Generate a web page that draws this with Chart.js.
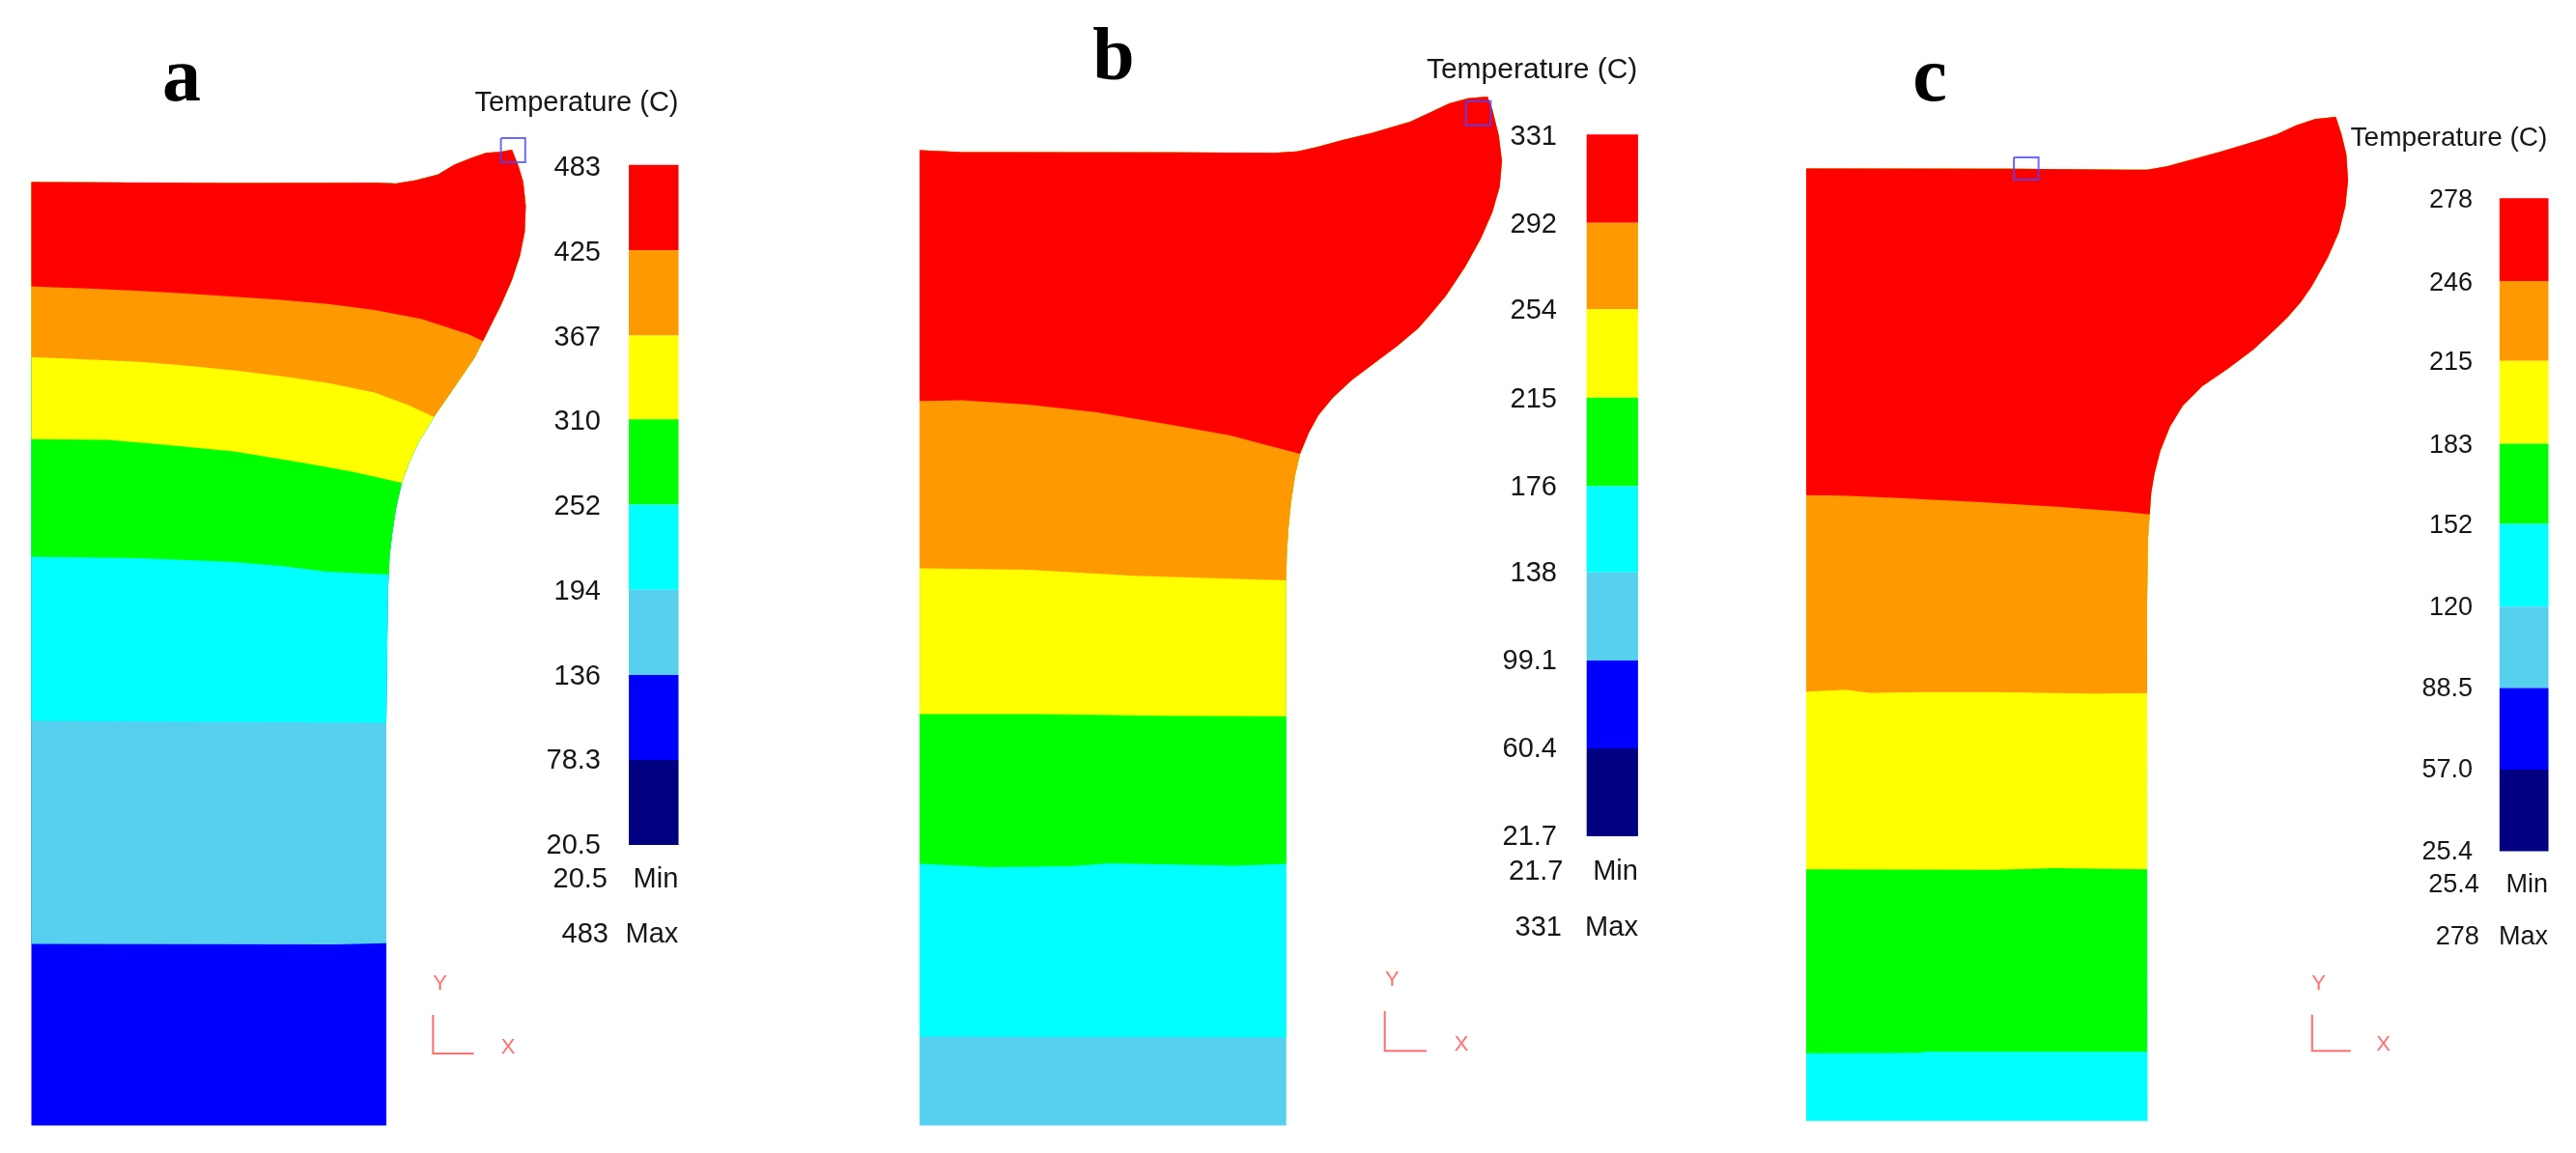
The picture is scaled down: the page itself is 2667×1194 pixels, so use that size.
<!DOCTYPE html>
<html lang="en">
<head>
  <meta charset="utf-8"/>
  <title>Temperature contours</title>
  <script src="https://cdn.jsdelivr.net/npm/chart.js"></script>
  <style>
    html, body { margin: 0; background: #fff; }
    canvas { display: block; }
  </style>
</head>
<body>
  <canvas id="contours" width="2667" height="1194"></canvas>
  <script>
    // colour bar labels, top to bottom
    const ticksA = ['483', '425', '367', '310', '252', '194', '136', '78.3', '20.5'];
    const ticksB = ['331', '292', '254', '215', '176', '138', '99.1', '60.4', '21.7'];
    const ticksC = ['278', '246', '215', '183', '152', '120', '88.5', '57.0', '25.4'];
    const bandColors = ['#ff0000', '#ff9900', '#ffff00', '#00ff00', '#00ffff', '#57cfee', '#0000ff', '#000080'];

    // part outlines: top-left, along the top, round the lip, down to the bottom
    const outlineA = [[32.5,188.6],[240,189.4],[390,189.3],[410,190],[430,186.7],[453.3,180.7],[470,170.7],[486.7,164],[503.3,158.3],[518.3,157.3],[530,155],[536.7,171.7],[541.7,188.3],[544.3,213.3],[543.3,240],[538.3,265],[530,290],[518.3,316.7],[500,353.3],[491.7,370],[470,401.7],[449.3,431.7],[433.3,458.3],[423.3,480],[416,500],[410,526.7],[406,553.3],[403.3,576.7],[402.7,595],[401.7,610],[400,748],[400,1165.5],[32.5,1165.5]];
    const outlineB = [[952.1,155.4],[996,157.4],[1218,157.8],[1320,158.3],[1343.3,156.7],[1363.3,152.3],[1390,145],[1420,137.7],[1460,126],[1480,116.7],[1500,107.3],[1520,101.7],[1540,100],[1545,113.3],[1551.7,140],[1555,166.7],[1552.7,193.3],[1545,220],[1533.3,246.7],[1516.7,276.7],[1496.7,306.7],[1480,326.7],[1468.3,340],[1446.7,358.3],[1420,378.3],[1400,393.3],[1380,411.7],[1365,430],[1355,448.3],[1346,470],[1340.7,493.3],[1336.7,520],[1334,546.7],[1332.3,573.3],[1331.7,601],[1331.7,1165.4],[952.1,1165.4]];
    const outlineC = [[1870,174.4],[2082.6,174.8],[2200,175.7],[2223.3,175.7],[2243.3,172.3],[2270,165],[2300,156.7],[2333.3,146.7],[2356.7,139.3],[2376.7,130],[2396.7,123.3],[2418.3,121],[2424,138.3],[2429.3,160],[2431,186.7],[2428.3,213.3],[2421.7,240],[2410,266.7],[2393.3,296.7],[2382,313],[2368,329],[2356.7,340],[2333.3,361.7],[2306.7,381.7],[2280,400],[2260,420],[2246.7,441.7],[2236.7,466.7],[2230.7,490],[2227.3,510],[2225.7,532.7],[2224,556.7],[2223,620],[2223.4,1160.7],[1870,1160.7]];

    // contour lines between bands, hottest first, left to right
    const contoursA = [
      [[32.5,296.5],[48.5,297.3],[97,298.9],[145.4,301.3],[193.9,304],[242.3,307.2],[290.8,310.4],[339.3,314.7],[387.8,321],[436.2,330.2],[484.7,346],[500,353.3]],
      [[32.5,369.7],[97,372.5],[145.4,374.8],[193.9,378.8],[242.3,383.5],[290.8,389.5],[339.3,396.6],[387.8,406.5],[421.7,419],[449.3,431.7]],
      [[32.5,454.7],[111.5,455.5],[169.6,460.6],[242.3,467.4],[315,479.6],[363.5,488.3],[416,500]],
      [[32.5,576.5],[145,578],[242,582],[290.8,586],[339,592],[402.7,595]],
      [[32.5,746.4],[203.6,747.6],[400,748.4]],
      [[32.5,977.5],[349,978],[400,976.7]]
    ];
    const contoursB = [
      [[952.1,415.2],[996,414.4],[1064.6,419],[1135.9,427],[1207,438.9],[1273,450.8],[1346,470]],
      [[952.1,588.4],[1064.6,590],[1174,596.3],[1331.7,601]],
      [[952.1,739.4],[1075.5,739.4],[1201.7,741.3],[1331.7,741.7]],
      [[952.1,894.5],[1026,898],[1108,897],[1149.6,894],[1278.5,896.4],[1331.7,894.5]],
      [[952.1,1073.4],[1331.7,1074.2]]
    ];
    const contoursC = [
      [[1870,512.8],[1908.6,513.2],[1971.8,516],[2051,520],[2130,524.7],[2200,530],[2225.7,532.7]],
      [[1870,716.3],[1911.2,714.3],[1935,717.5],[1987.7,716.7],[2066.8,716.7],[2167,718.2],[2223.4,717.8]],
      [[1870,900.3],[2066.8,900.7],[2127.4,899],[2223.4,900.3]],
      [[1870,1090.7],[1987.7,1090.3],[1993,1089],[2223.4,1089]]
    ];

    const triadA = [[448.3,1051],[448.3,1091],[490.5,1091]];
    const triadB = [[1433.7,1047],[1433.7,1088.3],[1477,1088.3]];
    const triadC = [[2393.8,1050.7],[2393.8,1088.3],[2433.8,1088.3]];

    const probeA = [[518.6,143],[543.8,143],[543.8,168],[518.6,168],[518.6,143]];
    const probeB = [[1517.6,104.8],[1543.4,104.8],[1543.4,129.7],[1517.6,129.7],[1517.6,104.8]];
    const probeC = [[2085,163],[2110.6,163],[2110.6,185.9],[2085,185.9],[2085,163]];

    const SANS = '"Liberation Sans", Arial, sans-serif';
    const SERIF = '"Liberation Serif", "Times New Roman", serif';
    const PINK = '#ff6f6f';
    const INK = '#161616';

    // [text, x, baseline, align, font, colour]
    const captions = [
      ['a', 188, 103.6, 'center', 'bold 80px ' + SERIF, '#000'],
      ['b', 1153, 82, 'center', 'bold 78px ' + SERIF, '#000'],
      ['c', 1998, 103.6, 'center', 'bold 80px ' + SERIF, '#000'],
      ['Temperature (C)', 702.5, 114.7, 'right', '29px ' + SANS, INK],
      ['Temperature (C)', 1695.3, 81, 'right', '30px ' + SANS, INK],
      ['Temperature (C)', 2637.4, 151, 'right', '28px ' + SANS, INK],
      ['20.5', 629, 918.7, 'right', '29px ' + SANS, INK],
      ['Min', 702.3, 918.7, 'right', '29px ' + SANS, INK],
      ['483', 630, 975.5, 'right', '29px ' + SANS, INK],
      ['Max', 702.3, 975.5, 'right', '29px ' + SANS, INK],
      ['21.7', 1618.5, 911, 'right', '29px ' + SANS, INK],
      ['Min', 1695.9, 911, 'right', '29px ' + SANS, INK],
      ['331', 1617, 968.9, 'right', '29px ' + SANS, INK],
      ['Max', 1695.9, 968.9, 'right', '29px ' + SANS, INK],
      ['25.4', 2566.8, 923.8, 'right', '27px ' + SANS, INK],
      ['Min', 2638, 923.8, 'right', '27px ' + SANS, INK],
      ['278', 2566.8, 977.9, 'right', '27px ' + SANS, INK],
      ['Max', 2638, 977.9, 'right', '27px ' + SANS, INK],
      ['Y', 455.6, 1024.5, 'center', '22px ' + SANS, PINK],
      ['X', 526, 1091, 'center', '22px ' + SANS, PINK],
      ['Y', 1441.4, 1020.6, 'center', '22px ' + SANS, PINK],
      ['X', 1513, 1088.3, 'center', '22px ' + SANS, PINK],
      ['Y', 2400.6, 1025, 'center', '22px ' + SANS, PINK],
      ['X', 2467.6, 1088.3, 'center', '22px ' + SANS, PINK]
    ];

    const toXY = pts => pts.map(p => ({x: p[0], y: p[1]}));

    const filled = (pts, color) => ({
      data: toXY(pts), showLine: true, pointRadius: 0, borderWidth: 0,
      backgroundColor: color, fill: 'shape'
    });

    const stroked = (pts, color, width) => ({
      data: toXY(pts), showLine: true, pointRadius: 0, borderWidth: width,
      borderColor: color, backgroundColor: color, fill: false
    });

    // the contour plus everything of the outline that lies above its right end
    function regionAbove(contour, outline) {
      const endY = contour[contour.length - 1][1];
      return contour.concat(outline.filter(p => p[1] < endY).reverse());
    }

    // painted coolest first, so each hotter region covers the one below
    function contourSets(outline, contours) {
      const sets = [filled(outline, bandColors[contours.length])];
      for (let i = contours.length - 1; i >= 0; i--) {
        sets.push(filled(regionAbove(contours[i], outline), bandColors[i]));
      }
      return sets;
    }

    function barSets(ticks, left, right, axisId) {
      return bandColors.map((color, i) => {
        const hi = Number(ticks[i]), lo = Number(ticks[i + 1]);
        return Object.assign(filled([[left, hi], [right, hi], [right, lo], [left, lo]], color), {yAxisID: axisId});
      });
    }

    // temperature axis stretched over the canvas so its range lands between top and bottom pixels
    function tempRange(ticks, top, bottom) {
      const hi = Number(ticks[0]), lo = Number(ticks[ticks.length - 1]);
      const perPixel = (hi - lo) / (bottom - top);
      return {type: 'linear', axis: 'y', min: lo - (1194 - bottom) * perPixel, max: hi + top * perPixel};
    }

    function barAxis(ticks, top, bottom) {
      return Object.assign(tempRange(ticks, top, bottom), {display: false});
    }

    // same temperatures, sitting a touch lower than the bar like in the original export
    function labelAxis(ticks, top, bottom, labelX, fontSize) {
      return Object.assign(tempRange(ticks, top, bottom), {
        position: {x: labelX},
        grid: {display: false},
        border: {display: false},
        afterBuildTicks: scale => { scale.ticks = ticks.map(t => ({value: Number(t)})); },
        // labels must not push the chart area in from the canvas edges
        afterFit: scale => { scale.paddingTop = 0; scale.paddingBottom = 0; },
        ticks: {
          autoSkip: false, maxRotation: 0, padding: 0, color: INK,
          font: {family: SANS, size: fontSize},
          callback: (value, index) => ticks[index]
        }
      });
    }

    const captionPlugin = {
      id: 'captions',
      afterDraw(chart) {
        const {ctx, scales} = chart;
        ctx.save();
        ctx.textBaseline = 'alphabetic';
        captions.forEach(c => {
          ctx.font = c[4];
          ctx.fillStyle = c[5];
          ctx.textAlign = c[3];
          ctx.fillText(c[0], scales.x.getPixelForValue(c[1]), scales.y.getPixelForValue(c[2]));
        });
        ctx.restore();
      }
    };

    const datasets = [].concat(
      contourSets(outlineA, contoursA),
      contourSets(outlineB, contoursB),
      contourSets(outlineC, contoursC),
      barSets(ticksA, 651, 702.5, 'barA'),
      barSets(ticksB, 1642.7, 1695.9, 'barB'),
      barSets(ticksC, 2587.8, 2638.5, 'barC'),
      [triadA, triadB, triadC].map(t => stroked(t, PINK, 2)),
      [probeA, probeB, probeC].map(p => stroked(p, 'rgba(70,70,255,0.8)', 2))
    );
    // chart.js draws the highest order first
    datasets.forEach((d, i) => { d.order = datasets.length - i; });

    new Chart(document.getElementById('contours'), {
      type: 'scatter',
      data: {datasets: datasets},
      plugins: [captionPlugin],
      options: {
        responsive: false,
        animation: false,
        layout: {padding: 0},
        plugins: {legend: {display: false}, tooltip: {enabled: false}},
        scales: {
          x: {type: 'linear', min: 0, max: 2667, display: false},
          y: {type: 'linear', min: 0, max: 1194, reverse: true, display: false},
          barA: barAxis(ticksA, 170.8, 874.9),
          barB: barAxis(ticksB, 139.2, 866),
          barC: barAxis(ticksC, 205.2, 881.5),
          labelA: labelAxis(ticksA, 174, 876, 622, 29),
          labelB: labelAxis(ticksB, 141.6, 867, 1612, 29),
          labelC: labelAxis(ticksC, 207.6, 882.3, 2560, 27)
        }
      }
    });
  </script>
</body>
</html>
